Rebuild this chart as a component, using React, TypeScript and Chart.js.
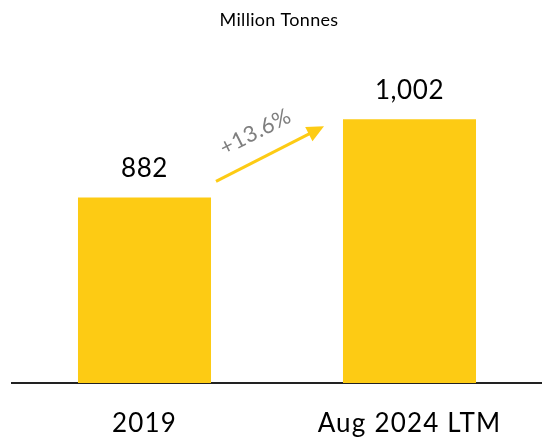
import React, { useEffect, useRef } from "react";
import { Chart, registerables } from "chart.js";

Chart.register(...registerables);

const categories = ["2019", "Aug 2024 LTM"];
const values = [882, 1002];
const valueLabels = ["882", "1,002"];
const growthLabel = "+13.6%";
const titleText = "Million Tonnes";

const BAR_COLOR = "#FDCB14";
const FONT = "Lato, 'Open Sans', sans-serif";

const labelsPlugin = {
  id: "valueLabels",
  beforeDraw(chart: any) {
    chart.ctx.letterSpacing = "0.3px";
  },
  afterDatasetsDraw(chart: any) {
    const ctx = chart.ctx;
    const meta = chart.getDatasetMeta(0);
    ctx.save();
    ctx.letterSpacing = "0.6px";
    ctx.font = `26px ${FONT}`;
    ctx.fillStyle = "#000";
    ctx.textAlign = "center";
    ctx.textBaseline = "middle";
    meta.data.forEach((bar: any, i: number) => {
      ctx.fillText(valueLabels[i], bar.x, bar.y - 29);
    });

    // growth arrow
    const b1 = meta.data[0];
    const b2 = meta.data[1];
    const x1 = b1.x + b1.width / 2 + 5;
    const y1 = b1.y - 16;
    const x2 = b2.x - b2.width / 2 - 19;
    const y2 = b2.y + 7;
    const ang = Math.atan2(y2 - y1, x2 - x1);
    const headLen = 17;
    const headW = 8;
    const lx = x2 - headLen * Math.cos(ang);
    const ly = y2 - headLen * Math.sin(ang);
    ctx.strokeStyle = BAR_COLOR;
    ctx.fillStyle = BAR_COLOR;
    ctx.lineWidth = 3;
    ctx.beginPath();
    ctx.moveTo(x1, y1);
    ctx.lineTo(lx + 2 * Math.cos(ang), ly + 2 * Math.sin(ang));
    ctx.stroke();
    ctx.beginPath();
    ctx.moveTo(x2, y2);
    ctx.lineTo(lx + headW * Math.sin(ang), ly - headW * Math.cos(ang));
    ctx.lineTo(lx - headW * Math.sin(ang), ly + headW * Math.cos(ang));
    ctx.closePath();
    ctx.fill();

    const mx = (x1 + x2) / 2;
    const my = (y1 + y2) / 2;
    const off = 26;
    const tx = mx + off * Math.sin(ang) - 3 * Math.cos(ang);
    const ty = my - off * Math.cos(ang) - 3 * Math.sin(ang);
    ctx.translate(tx, ty);
    ctx.rotate(ang);
    ctx.letterSpacing = "0.5px";
    ctx.font = `22px ${FONT}`;
    ctx.fillStyle = "#7F7F7F";
    ctx.textAlign = "center";
    ctx.textBaseline = "middle";
    ctx.fillText(growthLabel, 0, 0);
    ctx.restore();
    // spacing for the category tick labels drawn after the datasets
    ctx.letterSpacing = "1.2px";
  },
};

export default function App() {
  const ref = useRef<HTMLCanvasElement>(null);
  useEffect(() => {
    document.body.style.margin = "0";
    const chart = new Chart(ref.current as HTMLCanvasElement, {
      type: "bar",
      data: {
        labels: categories,
        datasets: [
          {
            data: values,
            backgroundColor: BAR_COLOR,
            borderWidth: 0,
            categoryPercentage: 1,
            barPercentage: 0.502,
          },
        ],
      },
      options: {
        animation: false,
        responsive: false,
        layout: { padding: { left: 12, right: -4, top: 0, bottom: 0 } },
        plugins: {
          legend: { display: false },
          tooltip: { enabled: false },
          title: {
            display: true,
            text: titleText,
            color: "#000",
            font: { family: FONT, size: 18, weight: "normal" },
            padding: { top: 9, bottom: 19 },
          },
        },
        scales: {
          x: {
            grid: { display: false, drawTicks: false },
            border: { display: true, color: "#222", width: 2 },
            ticks: {
              color: "#000",
              font: { family: FONT, size: 26 },
              padding: 25,
              z: 1,
            },
            afterFit(scale: any) {
              scale.height = 55;
            },
          },
          y: {
            display: false,
            min: 597,
            max: 1109,
          },
        },
      },
      plugins: [labelsPlugin],
    });
    return () => chart.destroy();
  }, []);
  return <canvas ref={ref} width={542} height={438} />;
}
